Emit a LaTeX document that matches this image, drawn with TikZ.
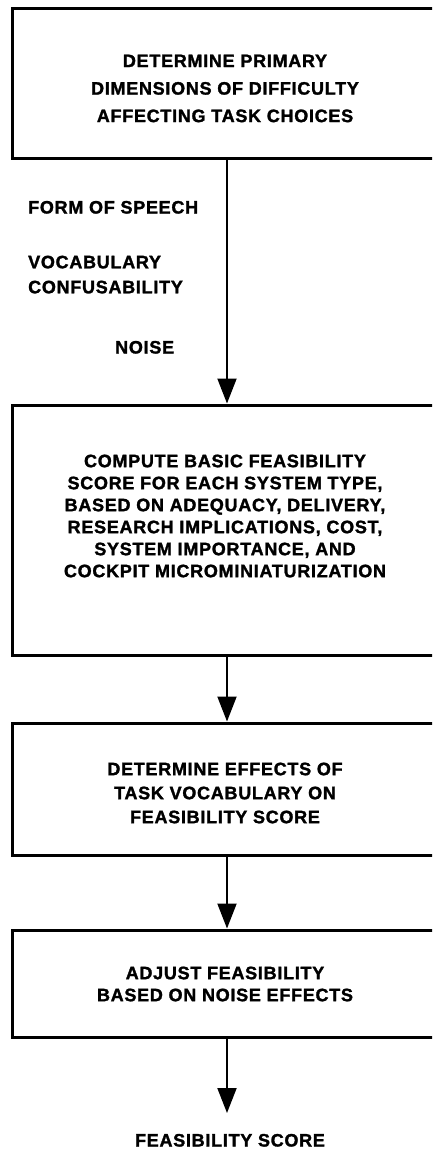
\documentclass[tikz,border=0pt]{standalone}
\usepackage{fontspec}
\setmainfont{Liberation Sans}[FakeBold=1.6]
\usetikzlibrary{arrows.meta,calc}
\begin{document}
\begin{tikzpicture}[x=1pt,y=-1pt,
  box/.style={draw=black,line width=3pt,rectangle,minimum width=430pt,inner sep=0pt},
  txt/.style={inner sep=0pt,align=center,font=\fontsize{18}{22}\selectfont\bfseries\addfontfeature{LetterSpace=4}},
  lbl/.style={inner sep=0pt,align=left,font=\fontsize{18}{25}\selectfont\bfseries\addfontfeature{LetterSpace=4}},
  flow/.style={line width=2pt,-{Triangle[length=25pt,width=19pt]}}]
\useasboundingbox (0,0) rectangle (432,1151);
\clip (0,0) rectangle (432,1151);
% boxes
\node[box,minimum height=150pt] (b1) at (227,83) {};
\node[box,minimum height=250pt] (b2) at (227,530) {};
\node[box,minimum height=132pt] (b3) at (227,789) {};
\node[box,minimum height=107pt] (b4) at (227,983.5) {};
% box texts
\node[txt,font=\fontsize{18}{27.5}\selectfont\bfseries\addfontfeature{LetterSpace=4}] (t1) at (225,88.5)
  {DETERMINE PRIMARY\\DIMENSIONS OF DIFFICULTY\\AFFECTING TASK CHOICES};
\node[txt] (t2) at (225,516)
  {COMPUTE BASIC FEASIBILITY\\SCORE FOR EACH SYSTEM TYPE,\\BASED ON ADEQUACY, DELIVERY,\\RESEARCH IMPLICATIONS, COST,\\SYSTEM IMPORTANCE, AND\\COCKPIT MICROMINIATURIZATION};
\node[txt,font=\fontsize{18}{24}\selectfont\bfseries\addfontfeature{LetterSpace=4}] (t3) at (225,793)
  {DETERMINE EFFECTS OF\\TASK VOCABULARY ON\\FEASIBILITY SCORE};
\node[txt] (t4) at (225,984)
  {ADJUST FEASIBILITY\\BASED ON NOISE EFFECTS};
% side labels
\node[lbl,anchor=west,text height=13pt,text depth=0pt] (l1) at (28,207) {FORM OF SPEECH};
\node[lbl,anchor=north west] (l2) at (28,255.5) {VOCABULARY\\CONFUSABILITY};
\node[lbl,anchor=west,text height=13pt,text depth=0pt] (l3) at (115,347) {NOISE};
% output
\coordinate (end) at (227,1113);
\node[txt,text height=13pt,text depth=0pt] (out) at (230,1140) {FEASIBILITY SCORE};
% connectors
\draw[flow] (b1.south) -- (b2.north);
\draw[flow] (b2.south) -- (b3.north);
\draw[flow] (b3.south) -- (b4.north);
\draw[flow] (b4.south) -- (end);
\end{tikzpicture}
\end{document}
